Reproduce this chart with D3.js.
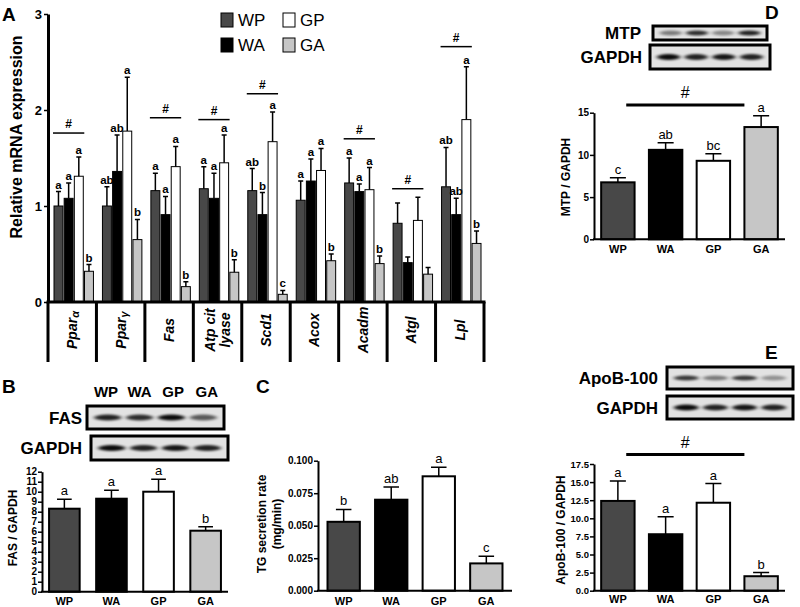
<!DOCTYPE html>
<html>
<head>
<meta charset="utf-8">
<script src="https://cdn.jsdelivr.net/npm/d3@7"></script>
<style>
body { margin: 0; background: #fff; }
text { font-family: "Liberation Sans", Arial, Helvetica, sans-serif; }
</style>
</head>
<body>
<div id="chart"></div>
<script>
// groups
var groups = ["WP", "WA", "GP", "GA"];
var groupFill = ["#484848", "#000000", "#ffffff", "#c6c6c6"];

// Panel A - relative mRNA expression
var genes = ["Pparα", "Pparγ", "Fas", "Atp cit lyase", "Scd1", "Acox", "Acadm", "Atgl", "Lpl"];
var mrnaWP = [1.00, 1.00, 1.16, 1.18, 1.16, 1.06, 1.24, 0.82, 1.20];
var mrnaWA = [1.08, 1.36, 0.91, 1.08, 0.91, 1.26, 1.15, 0.41, 0.91];
var mrnaGP = [1.31, 1.78, 1.41, 1.45, 1.67, 1.37, 1.17, 0.85, 1.90];
var mrnaGA = [0.32, 0.65, 0.16, 0.31, 0.08, 0.43, 0.40, 0.29, 0.61];
var semWP = [0.15, 0.20, 0.18, 0.23, 0.23, 0.20, 0.26, 0.21, 0.41];
var semWA = [0.16, 0.38, 0.19, 0.26, 0.23, 0.23, 0.08, 0.06, 0.17];
var semGP = [0.20, 0.56, 0.21, 0.29, 0.31, 0.23, 0.23, 0.24, 0.55];
var semGA = [0.07, 0.21, 0.05, 0.13, 0.04, 0.07, 0.08, 0.07, 0.13];
var letWP = ["a", "ab", "a", "a", "ab", "a", "a", "", "ab"];
var letWA = ["a", "ab", "a", "a", "b", "a", "a", "", "ab"];
var letGP = ["a", "a", "a", "a", "a", "a", "a", "", "a"];
var letGA = ["b", "b", "b", "b", "c", "b", "b", "", "b"];
var hashA = [1.76, null, 1.92, 1.90, 2.17, null, 1.70, 1.18, 2.66];
var ticksA = [0, 1, 2, 3];

// Panel B - FAS / GAPDH
var fasMean = [8.3, 9.3, 10.0, 6.1];
var fasSem = [0.95, 0.85, 1.25, 0.4];
var fasLetters = ["a", "a", "a", "b"];
var fasTicks = [0, 1, 2, 3, 4, 5, 6, 7, 8, 9, 10, 11, 12];
var fasBands = [0.85, 0.8, 0.95, 0.6];
var gapdhBandsB = [0.95, 0.85, 0.9, 0.85];

// Panel C - TG secretion rate
var tgMean = [0.053, 0.070, 0.088, 0.021];
var tgSem = [0.0095, 0.0098, 0.007, 0.0055];
var tgLetters = ["b", "ab", "a", "c"];
var tgTicks = [0, 0.025, 0.05, 0.075, 0.1];

// Panel D - MTP / GAPDH
var mtpMean = [6.75, 10.6, 9.3, 13.3];
var mtpSem = [0.55, 0.85, 0.85, 1.35];
var mtpLetters = ["c", "ab", "bc", "a"];
var mtpTicks = [0, 5, 10, 15];
var mtpBands = [0.45, 0.8, 0.4, 0.85];
var gapdhBandsD = [0.95, 0.85, 0.9, 0.85];

// Panel E - ApoB-100 / GAPDH
var apoMean = [12.4, 7.8, 12.15, 2.0];
var apoSem = [2.75, 2.4, 2.65, 0.5];
var apoLetters = ["a", "a", "a", "b"];
var apoTicks = [0, 2.5, 5, 7.5, 10, 12.5, 15, 17.5];
var apoBands = [0.75, 0.45, 0.75, 0.35];
var gapdhBandsE = [0.95, 0.85, 0.9, 0.85];

var svg = d3.select("#chart").append("svg")
    .attr("width", 800)
    .attr("height", 607);

var defs = svg.append("defs");
defs.append("filter").attr("id", "blur")
    .attr("x", "-50%").attr("y", "-100%").attr("width", "200%").attr("height", "300%")
    .append("feGaussianBlur").attr("stdDeviation", "2 1");

function styleAxis(a, size, width) {
    a.select(".domain").attr("stroke-width", width);
    a.selectAll(".tick line").attr("stroke-width", 1.5);
    a.selectAll(".tick text").attr("font-size", size).attr("font-weight", "bold");
}

function panelLetter(t, x, y) {
    svg.append("text").attr("x", x).attr("y", y)
        .attr("font-size", 19).attr("font-weight", "bold").text(t);
}

// ---------- PANEL A ----------
var ax0 = 48, ax1 = 484, ay0 = 302, ay1 = 14;
var geneX = d3.scaleBand().domain(genes).range([ax0, ax1]);
var barX = d3.scaleBand().domain(groups).range([6, geneX.bandwidth() - 3]).paddingInner(0.12);
var yA = d3.scaleLinear().domain([0, 3]).range([ay0, ay1]);

var meansA = [mrnaWP, mrnaWA, mrnaGP, mrnaGA];
var semsA = [semWP, semWA, semGP, semGA];
var letsA = [letWP, letWA, letGP, letGA];
var rowsA = [];
genes.forEach(function(gene, gi) {
    groups.forEach(function(grp, k) {
        rowsA.push({gene: gene, grp: grp, k: k, mean: meansA[k][gi], sem: semsA[k][gi], letter: letsA[k][gi]});
    });
});

var gA = svg.append("g");

gA.selectAll("rect.barA").data(rowsA).join("rect")
    .attr("class", "barA")
    .attr("x", d => geneX(d.gene) + barX(d.grp))
    .attr("y", d => yA(d.mean))
    .attr("width", barX.bandwidth())
    .attr("height", d => yA(0) - yA(d.mean))
    .attr("fill", d => groupFill[d.k])
    .attr("stroke", "#000")
    .attr("stroke-width", 1);

gA.selectAll("path.errA").data(rowsA).join("path")
    .attr("class", "errA")
    .attr("d", function(d) {
        var cx = geneX(d.gene) + barX(d.grp) + barX.bandwidth() / 2;
        var top = yA(d.mean + d.sem);
        return "M" + cx + "," + yA(d.mean) + "V" + top + "M" + (cx - 2.5) + "," + top + "H" + (cx + 2.5);
    })
    .attr("stroke", "#000").attr("stroke-width", 1.5).attr("fill", "none");

gA.selectAll("text.letA").data(rowsA.filter(d => d.letter)).join("text")
    .attr("class", "letA")
    .attr("x", d => geneX(d.gene) + barX(d.grp) + barX.bandwidth() / 2)
    .attr("y", d => yA(d.mean + d.sem) - 3)
    .attr("text-anchor", "middle")
    .attr("font-size", 11.5).attr("font-weight", "bold")
    .text(d => d.letter);

// significance bars
genes.forEach(function(gene, gi) {
    if (hashA[gi] == null) return;
    var xa = geneX(gene) + barX("WP") - 1;
    var xb = geneX(gene) + barX("GP") + barX.bandwidth() + 1;
    gA.append("line").attr("x1", xa).attr("x2", xb)
        .attr("y1", yA(hashA[gi])).attr("y2", yA(hashA[gi]))
        .attr("stroke", "#000").attr("stroke-width", 1.5);
    gA.append("text").attr("x", (xa + xb) / 2).attr("y", yA(hashA[gi]) - 5)
        .attr("text-anchor", "middle").attr("font-size", 12).attr("font-weight", "bold").text("#");
});

gA.append("g").attr("transform", "translate(" + ax0 + ",0)")
    .call(d3.axisLeft(yA).tickValues(ticksA).tickFormat(d3.format("d")).tickSize(4).tickSizeOuter(0).tickPadding(2))
    .call(a => styleAxis(a, 13, 3));

// baseline and category cells
gA.append("line").attr("x1", ax0 - 1.5).attr("x2", ax1 + 1.5).attr("y1", ay0).attr("y2", ay0)
    .attr("stroke", "#000").attr("stroke-width", 3);
var dividers = genes.map(g => geneX(g)).concat([ax1]);
gA.selectAll("line.div").data(dividers).join("line")
    .attr("class", "div")
    .attr("x1", d => d).attr("x2", d => d)
    .attr("y1", ay0).attr("y2", 362)
    .attr("stroke", "#000").attr("stroke-width", 3);

genes.forEach(function(gene) {
    var cx = geneX(gene) + geneX.bandwidth() / 2;
    var t = gA.append("g").attr("transform", "translate(" + cx + ",330) rotate(-90)");
    var lines = gene === "Atp cit lyase" ? ["Atp cit", "lyase"] : [gene];
    lines.forEach(function(line, i) {
        var off = (i - (lines.length - 1) / 2) * 15 + 5;
        var txt = t.append("text").attr("x", 0).attr("y", off)
            .attr("text-anchor", "middle")
            .attr("font-size", 14).attr("font-weight", "bold").attr("font-style", "italic");
        if (/[αγ]$/.test(line)) {
            txt.append("tspan").text(line.slice(0, -1));
            txt.append("tspan").attr("font-size", 11).attr("dy", 2).text(line.slice(-1));
        } else {
            txt.text(line);
        }
    });
});

gA.append("text")
    .attr("transform", "translate(22,137) rotate(-90)")
    .attr("text-anchor", "middle")
    .attr("font-size", 16).attr("font-weight", "bold")
    .text("Relative mRNA expression");

// legend
groups.forEach(function(grp, i) {
    var lx = 221 + Math.floor(i / 2) * 62;
    var ly = 13 + (i % 2) * 25;
    gA.append("rect").attr("x", lx).attr("y", ly).attr("width", 12).attr("height", 14)
        .attr("fill", groupFill[i]).attr("stroke", "#000").attr("stroke-width", 1);
    gA.append("text").attr("x", lx + 17).attr("y", ly + 13)
        .attr("font-size", 17).text(grp);
});

panelLetter("A", 2, 21);

// ---------- blots ----------
function blot(c) {
    var g = svg.append("g");
    g.append("rect").attr("x", c.x).attr("y", c.y).attr("width", c.w).attr("height", c.h)
        .attr("fill", "#e2e2e2").attr("stroke", "#000").attr("stroke-width", 3);
    var bx = d3.scaleBand().domain(groups).range([c.x + 4, c.x + c.w - 4]).paddingInner(0.15).paddingOuter(0.1);
    g.selectAll("ellipse").data(c.bands).join("ellipse")
        .attr("cx", (d, i) => bx(groups[i]) + bx.bandwidth() / 2)
        .attr("cy", c.y + c.h / 2)
        .attr("rx", bx.bandwidth() / 2)
        .attr("ry", c.bh)
        .attr("fill", "#000")
        .attr("opacity", d => d)
        .attr("filter", "url(#blur)");
    g.append("text").attr("x", c.lx).attr("y", c.y + c.h / 2 + 6)
        .attr("text-anchor", "end").attr("font-size", 17).attr("font-weight", "bold").text(c.label);
}

// ---------- small bar panels ----------
function smallPanel(c) {
    var g = svg.append("g");
    var x = d3.scaleBand().domain(groups).range([c.x0, c.x1]).paddingInner(c.padIn).paddingOuter(c.padOut);
    var y = d3.scaleLinear().domain([0, c.max]).range([c.y0, c.y1]);
    var rows = groups.map((grp, i) => ({grp: grp, i: i, mean: c.mean[i], sem: c.sem[i], letter: c.letters[i]}));

    g.selectAll("rect").data(rows).join("rect")
        .attr("x", d => x(d.grp))
        .attr("y", d => y(d.mean))
        .attr("width", x.bandwidth())
        .attr("height", d => y(0) - y(d.mean))
        .attr("fill", d => groupFill[d.i])
        .attr("stroke", "#000").attr("stroke-width", 2);

    var cap = x.bandwidth() * 0.24;
    g.selectAll("path.err").data(rows).join("path")
        .attr("class", "err")
        .attr("d", function(d) {
            var cx = x(d.grp) + x.bandwidth() / 2;
            var top = y(d.mean + d.sem);
            return "M" + cx + "," + y(d.mean) + "V" + top + "M" + (cx - cap) + "," + top + "H" + (cx + cap);
        })
        .attr("stroke", "#000").attr("stroke-width", 1.5).attr("fill", "none");

    g.selectAll("text.let").data(rows).join("text")
        .attr("class", "let")
        .attr("x", d => x(d.grp) + x.bandwidth() / 2)
        .attr("y", d => y(d.mean + d.sem) - 4)
        .attr("text-anchor", "middle").attr("font-size", 13)
        .text(d => d.letter);

    g.append("g").attr("transform", "translate(" + c.x0 + ",0)")
        .call(d3.axisLeft(y).tickValues(c.ticks).tickFormat(c.fmt).tickSize(4).tickSizeOuter(0).tickPadding(1))
        .call(a => styleAxis(a, c.tickFont, 2));

    g.append("line").attr("x1", c.x0 - 1).attr("x2", c.x1).attr("y1", c.y0).attr("y2", c.y0)
        .attr("stroke", "#000").attr("stroke-width", 2);

    g.selectAll("text.xl").data(groups).join("text")
        .attr("class", "xl")
        .attr("x", d => x(d) + x.bandwidth() / 2)
        .attr("y", c.y0 + c.xlOff)
        .attr("text-anchor", "middle").attr("font-size", 11).attr("font-weight", "bold")
        .text(d => d);

    c.ylabel.forEach(function(line, i) {
        g.append("text")
            .attr("transform", "translate(" + (c.ylx + i * 15) + "," + c.yly + ") rotate(-90)")
            .attr("text-anchor", "middle").attr("font-size", 12).attr("font-weight", "bold")
            .text(line);
    });

    if (c.hash != null) {
        var xa = x("WP") + x.bandwidth() * 0.75;
        var xb = x("GA");
        g.append("line").attr("x1", xa).attr("x2", xb)
            .attr("y1", y(c.hash)).attr("y2", y(c.hash))
            .attr("stroke", "#000").attr("stroke-width", 3);
        g.append("text").attr("x", (xa + xb) / 2).attr("y", y(c.hash) - 7)
            .attr("text-anchor", "middle").attr("font-size", 16).text("#");
    }
}

// ---------- PANEL B ----------
panelLetter("B", 2, 393);
svg.selectAll("text.hdrB").data(groups).join("text")
    .attr("class", "hdrB")
    .attr("x", (d, i) => d3.scaleBand().domain(groups).range([91, 222]).paddingInner(0.1)(d) + 15)
    .attr("y", 397)
    .attr("text-anchor", "middle").attr("font-size", 15).attr("font-weight", "bold")
    .text(d => d);
blot({x: 87, y: 406, w: 137, h: 23, bands: fasBands, bh: 3, label: "FAS", lx: 82});
blot({x: 91, y: 436, w: 137, h: 24, bands: gapdhBandsB, bh: 3, label: "GAPDH", lx: 82});
smallPanel({
    x0: 42, x1: 228, y0: 591.7, y1: 471.7, max: 12, padIn: 0.35, padOut: 0.15,
    mean: fasMean, sem: fasSem, letters: fasLetters, ticks: fasTicks, fmt: d3.format("d"), tickFont: 10,
    xlOff: 13, ylabel: ["FAS / GAPDH"], ylx: 17, yly: 528, hash: null
});

// ---------- PANEL C ----------
panelLetter("C", 256, 393);
smallPanel({
    x0: 318, x1: 512, y0: 590.7, y1: 460.7, max: 0.1, padIn: 0.32, padOut: 0.2,
    mean: tgMean, sem: tgSem, letters: tgLetters, ticks: tgTicks, fmt: d3.format(".3f"), tickFont: 10,
    xlOff: 14, ylabel: ["TG secretion rate", "(mg/min)"], ylx: 266, yly: 524, hash: null
});

// ---------- PANEL D ----------
panelLetter("D", 765, 19);
blot({x: 653, y: 26, w: 114, h: 14, bands: mtpBands, bh: 2.5, label: "MTP", lx: 641});
blot({x: 650, y: 45, w: 120, h: 24, bands: gapdhBandsD, bh: 3, label: "GAPDH", lx: 642});
smallPanel({
    x0: 594, x1: 785, y0: 239.3, y1: 112.7, max: 15, padIn: 0.3, padOut: 0.15,
    mean: mtpMean, sem: mtpSem, letters: mtpLetters, ticks: mtpTicks, fmt: d3.format("d"), tickFont: 10,
    xlOff: 14, ylabel: ["MTP / GAPDH"], ylx: 570, yly: 177, hash: 15.9
});

// ---------- PANEL E ----------
panelLetter("E", 765, 359);
blot({x: 667, y: 367, w: 126, h: 22, bands: apoBands, bh: 2.5, label: "ApoB-100", lx: 658});
blot({x: 667, y: 396, w: 126, h: 23, bands: gapdhBandsE, bh: 3, label: "GAPDH", lx: 658});
smallPanel({
    x0: 594, x1: 785, y0: 590.7, y1: 464, max: 17.5, padIn: 0.3, padOut: 0.15,
    mean: apoMean, sem: apoSem, letters: apoLetters, ticks: apoTicks, fmt: d3.format(".1f"), tickFont: 9.5,
    xlOff: 12, ylabel: ["ApoB-100 / GAPDH"], ylx: 565, yly: 530, hash: 18.8
});
</script>
</body>
</html>
